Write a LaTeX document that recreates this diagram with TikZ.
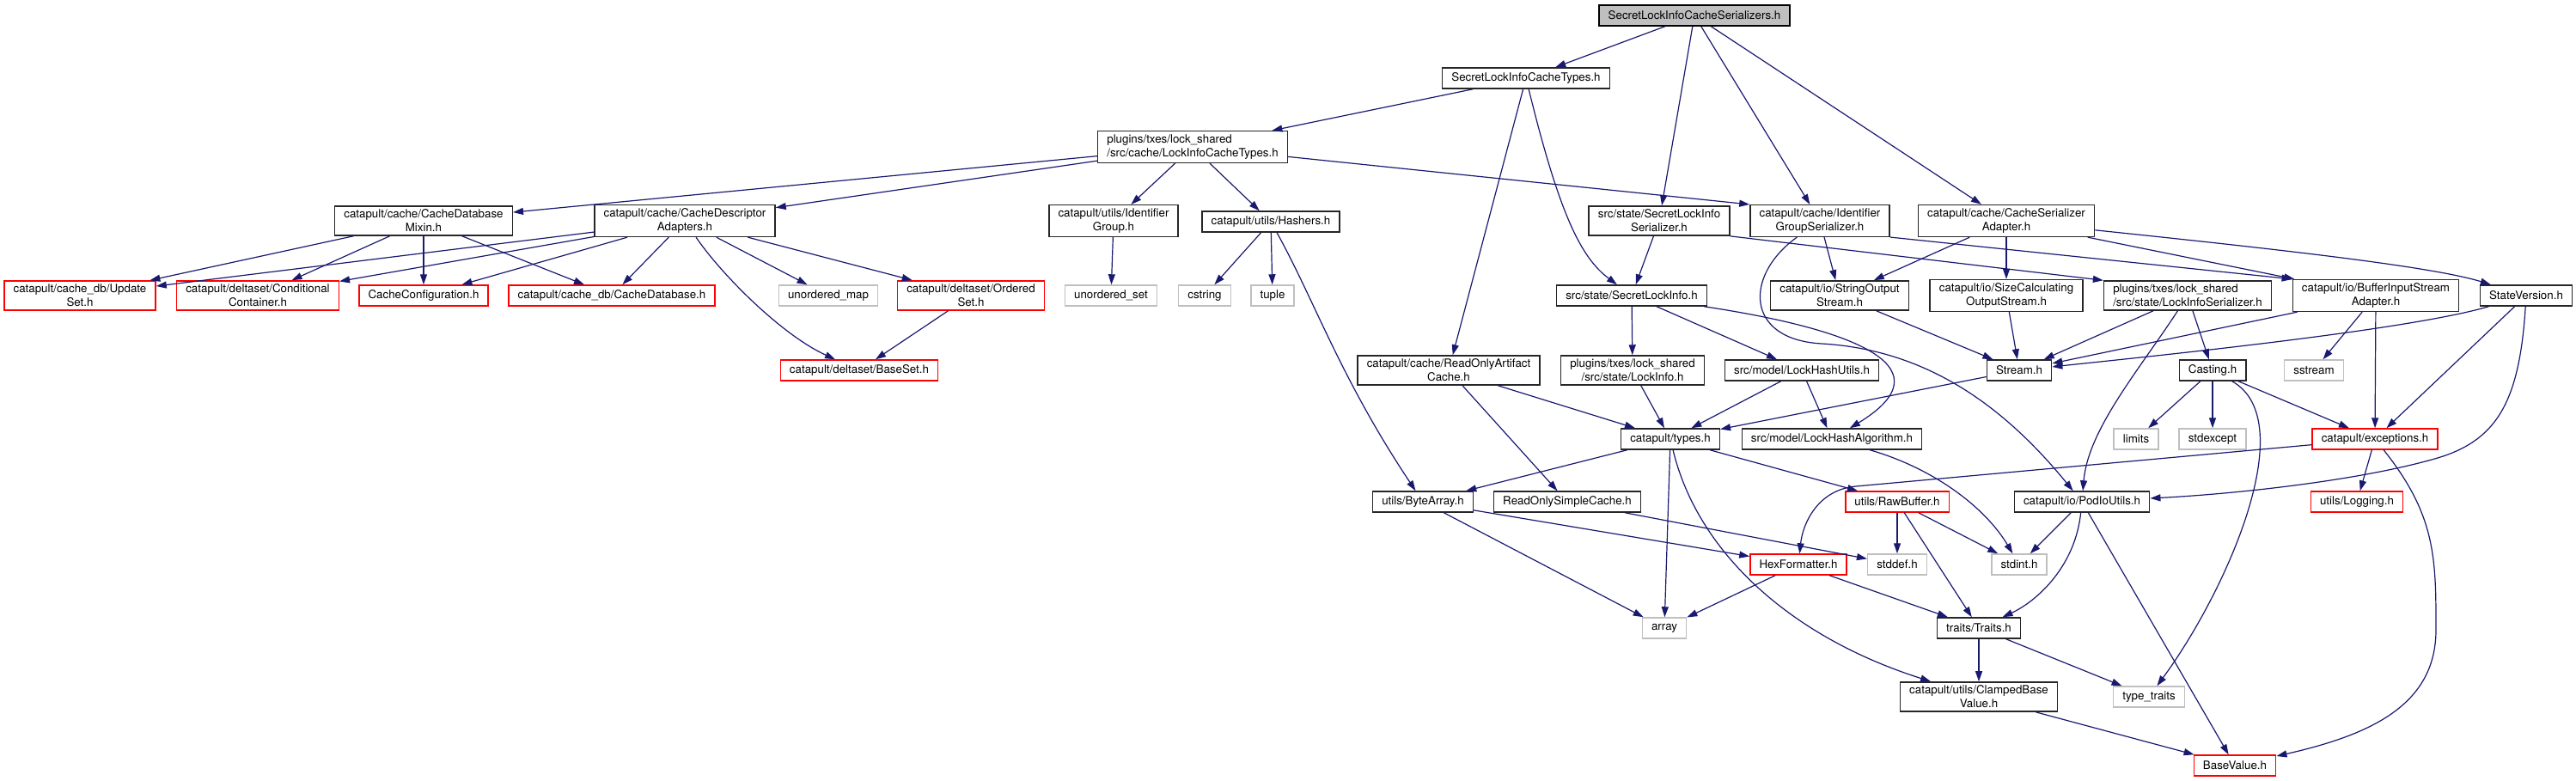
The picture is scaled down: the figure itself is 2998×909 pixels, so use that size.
\documentclass[tikz,border=0pt]{standalone}
\usepackage{fontspec}
\setmainfont{TeX Gyre Heros}
\usepackage{tikz}
\usetikzlibrary{arrows.meta}
\usepackage{xcolor}
\definecolor{edgeblue}{HTML}{191970}
\definecolor{sysgray}{HTML}{BFBFBF}
\definecolor{incred}{HTML}{FF0000}

\begin{document}
\begin{tikzpicture}[
    x=0.75pt, y=0.75pt,
    file/.style={draw=black!85, line width=1.1pt, fill=white, align=center,
        minimum height=18pt, inner xsep=8pt, inner ysep=3pt,
        font=\fontsize{10}{12}\selectfont},
    leftfile/.style={file, align=left},
    sysfile/.style={file, draw=sysgray},
    redfile/.style={file, draw=incred},
    rootfile/.style={file, fill=sysgray, draw=black},
    arrow/.style={-{Triangle[length=9pt,width=6pt]}, line width=0.9pt, draw=edgeblue}
]
\useasboundingbox (0,0) rectangle (2998,-909);
\node[rootfile] (root) at (1972,-18) {SecretLockInfoCacheSerializers.h};
\node[file] (slict) at (1776,-91) {SecretLockInfoCacheTypes.h};
\node[leftfile] (lict) at (1388,-171) {plugins/txes/lock\_shared\\/src/cache/LockInfoCacheTypes.h};
\node[file] (mixin) at (493,-257) {catapult/cache/CacheDatabase\\Mixin.h};
\node[file] (descr) at (797,-257) {catapult/cache/CacheDescriptor\\Adapters.h};
\node[file] (idgroup) at (1296,-257) {catapult/utils/Identifier\\Group.h};
\node[file] (hashers) at (1479,-258) {catapult/utils/Hashers.h};
\node[file] (slis) at (1931,-257) {src/state/SecretLockInfo\\Serializer.h};
\node[file] (igs) at (2118,-257) {catapult/cache/Identifier\\GroupSerializer.h};
\node[file] (csa) at (2335,-257) {catapult/cache/CacheSerializer\\Adapter.h};
\node[redfile] (updateset) at (93,-344) {catapult/cache\_db/Update\\Set.h};
\node[redfile] (condcont) at (300,-344) {catapult/deltaset/Conditional\\Container.h};
\node[redfile] (cacheconf) at (493,-344) {CacheConfiguration.h};
\node[redfile] (cachedb) at (712,-344) {catapult/cache\_db/CacheDatabase.h};
\node[sysfile] (umap) at (964,-344) {unordered\_map};
\node[redfile] (orderedset) at (1130,-344) {catapult/deltaset/Ordered\\Set.h};
\node[sysfile] (uset) at (1293,-344) {unordered\_set};
\node[sysfile] (cstring) at (1402,-344) {cstring};
\node[sysfile] (tuple) at (1481,-344) {tuple};
\node[file] (sli) at (1899,-344) {src/state/SecretLockInfo.h};
\node[file] (sos) at (2141,-344) {catapult/io/StringOutput\\Stream.h};
\node[file] (scos) at (2335,-344) {catapult/io/SizeCalculating\\OutputStream.h};
\node[leftfile] (lis) at (2546,-344) {plugins/txes/lock\_shared\\/src/state/LockInfoSerializer.h};
\node[file] (bisa) at (2765,-344) {catapult/io/BufferInputStream\\Adapter.h};
\node[file] (statever) at (2940,-344) {StateVersion.h};
\node[redfile] (baseset) at (1000,-431) {catapult/deltaset/BaseSet.h};
\node[file] (roac) at (1686,-431) {catapult/cache/ReadOnlyArtifact\\Cache.h};
\node[file] (lockinfo) at (1900,-431) {plugins/txes/lock\_shared\\/src/state/LockInfo.h};
\node[file] (lhu) at (2097,-431) {src/model/LockHashUtils.h};
\node[file] (stream) at (2350,-431) {Stream.h};
\node[file] (casting) at (2575,-431) {Casting.h};
\node[sysfile] (sstream) at (2693,-431) {sstream};
\node[file] (types) at (1944,-511) {catapult/types.h};
\node[file] (lha) at (2132,-511) {src/model/LockHashAlgorithm.h};
\node[sysfile] (limits) at (2486,-511) {limits};
\node[sysfile] (stdexcept) at (2575,-511) {stdexcept};
\node[redfile] (exceptions) at (2764,-511) {catapult/exceptions.h};
\node[file] (bytearray) at (1656,-584) {utils/ByteArray.h};
\node[file] (roscache) at (1824,-584) {ReadOnlySimpleCache.h};
\node[redfile] (rawbuffer) at (2208,-584) {utils/RawBuffer.h};
\node[file] (podio) at (2423,-584) {catapult/io/PodIoUtils.h};
\node[redfile] (logging) at (2743,-584) {utils/Logging.h};
\node[redfile] (hexfmt) at (2093,-657) {HexFormatter.h};
\node[sysfile] (stddef) at (2208,-657) {stddef.h};
\node[sysfile] (stdint) at (2350,-657) {stdint.h};
\node[sysfile] (array) at (1937,-731) {array};
\node[file] (traits) at (2303,-731) {traits/Traits.h};
\node[file] (clamped) at (2303,-811) {catapult/utils/ClampedBase\\Value.h};
\node[sysfile] (typetraits) at (2501,-811) {type\_traits};
\node[redfile] (basevalue) at (2601,-891) {BaseValue.h};
\draw[arrow] (root) -- (slict);
\draw[arrow] (root) -- (slis);
\draw[arrow] (root) -- (igs);
\draw[arrow] (root) -- (csa);
\draw[arrow] (slict) -- (lict);
\draw[arrow] (slict) -- (roac);
\draw[arrow] (slict) .. controls (1815,-250) and (1840,-300) .. (sli);
\draw[arrow] (lict) -- (mixin);
\draw[arrow] (lict) -- (descr);
\draw[arrow] (lict) -- (idgroup);
\draw[arrow] (lict) -- (hashers);
\draw[arrow] (lict) -- (igs.north west);
\draw[arrow] (mixin) -- (updateset);
\draw[arrow] (mixin) -- (condcont);
\draw[arrow] (mixin) -- (cacheconf);
\draw[arrow] (mixin) -- (cachedb);
\draw[arrow] (descr) -- (updateset);
\draw[arrow] (descr) -- (condcont);
\draw[arrow] (descr) -- (cacheconf);
\draw[arrow] (descr) -- (cachedb);
\draw[arrow] (descr) -- (umap);
\draw[arrow] (descr) -- (orderedset);
\draw[arrow] (descr) .. controls (840,-320) and (910,-390) .. (baseset);
\draw[arrow] (orderedset) -- (baseset);
\draw[arrow] (idgroup) -- (uset);
\draw[arrow] (hashers) -- (cstring);
\draw[arrow] (hashers) -- (tuple);
\draw[arrow] (hashers) .. controls (1530,-350) and (1560,-440) .. (bytearray);
\draw[arrow] (slis) -- (sli);
\draw[arrow] (slis.south east) -- (lis.north west);
\draw[arrow] (igs) -- (sos);
\draw[arrow] (igs.south east) -- (bisa.north west);
\draw[arrow] (igs) .. controls (2030,-320) and (2030,-395) .. (2120,-400)
    .. controls (2240,-407) and (2330,-470) .. (podio);
\draw[arrow] (csa) -- (sos);
\draw[arrow] (csa) -- (scos);
\draw[arrow] (csa) -- (bisa);
\draw[arrow] (csa) .. controls (2650,-290) and (2830,-310) .. (statever);
\draw[arrow] (sli) -- (lockinfo);
\draw[arrow] (sli) -- (lhu);
\draw[arrow] (sli) .. controls (2170,-385) and (2265,-430) .. (lha);
\draw[arrow] (sos) -- (stream);
\draw[arrow] (scos) -- (stream);
\draw[arrow] (lis) -- (stream);
\draw[arrow] (lis) -- (casting);
\draw[arrow] (lis) .. controls (2490,-430) and (2430,-500) .. (podio);
\draw[arrow] (bisa) -- (stream);
\draw[arrow] (bisa) -- (sstream);
\draw[arrow] (bisa) -- (exceptions);
\draw[arrow] (statever) .. controls (2800,-385) and (2500,-415) .. (stream);
\draw[arrow] (statever) -- (exceptions);
\draw[arrow] (statever) .. controls (2932,-470) and (2905,-515) .. (2830,-535)
    .. controls (2740,-560) and (2600,-575) .. (podio);
\draw[arrow] (roac) -- (types);
\draw[arrow] (roac) -- (roscache);
\draw[arrow] (lockinfo) -- (types);
\draw[arrow] (lhu) -- (types);
\draw[arrow] (lhu) -- (lha);
\draw[arrow] (stream) -- (types);
\draw[arrow] (casting) -- (limits);
\draw[arrow] (casting) -- (stdexcept);
\draw[arrow] (casting) -- (exceptions);
\draw[arrow] (casting) .. controls (2680,-490) and (2590,-690) .. (typetraits);
\draw[arrow] (types) -- (bytearray);
\draw[arrow] (types) -- (array);
\draw[arrow] (types) -- (rawbuffer);
\draw[arrow] (types) .. controls (1975,-640) and (2080,-740) .. (clamped);
\draw[arrow] (lha) .. controls (2250,-545) and (2310,-590) .. (stdint);
\draw[arrow] (exceptions) -- (2160,-566) .. controls (2115,-570) and (2098,-610) .. (hexfmt);
\draw[arrow] (exceptions) -- (logging);
\draw[arrow] (exceptions) .. controls (2835,-600) and (2835,-650) .. (2835,-733)
    .. controls (2835,-820) and (2760,-855) .. (basevalue);
\draw[arrow] (bytearray) -- (array);
\draw[arrow] (bytearray) -- (hexfmt);
\draw[arrow] (roscache) -- (stddef);
\draw[arrow] (rawbuffer) -- (stddef);
\draw[arrow] (rawbuffer) -- (stdint);
\draw[arrow] (rawbuffer) -- (traits);
\draw[arrow] (podio) -- (stdint);
\draw[arrow] (podio) .. controls (2415,-660) and (2370,-700) .. (traits);
\draw[arrow] (podio) -- (basevalue);
\draw[arrow] (hexfmt) -- (array);
\draw[arrow] (hexfmt) -- (traits);
\draw[arrow] (traits) -- (clamped);
\draw[arrow] (traits) -- (typetraits);
\draw[arrow] (clamped) -- (basevalue);
\end{tikzpicture}
\end{document}
